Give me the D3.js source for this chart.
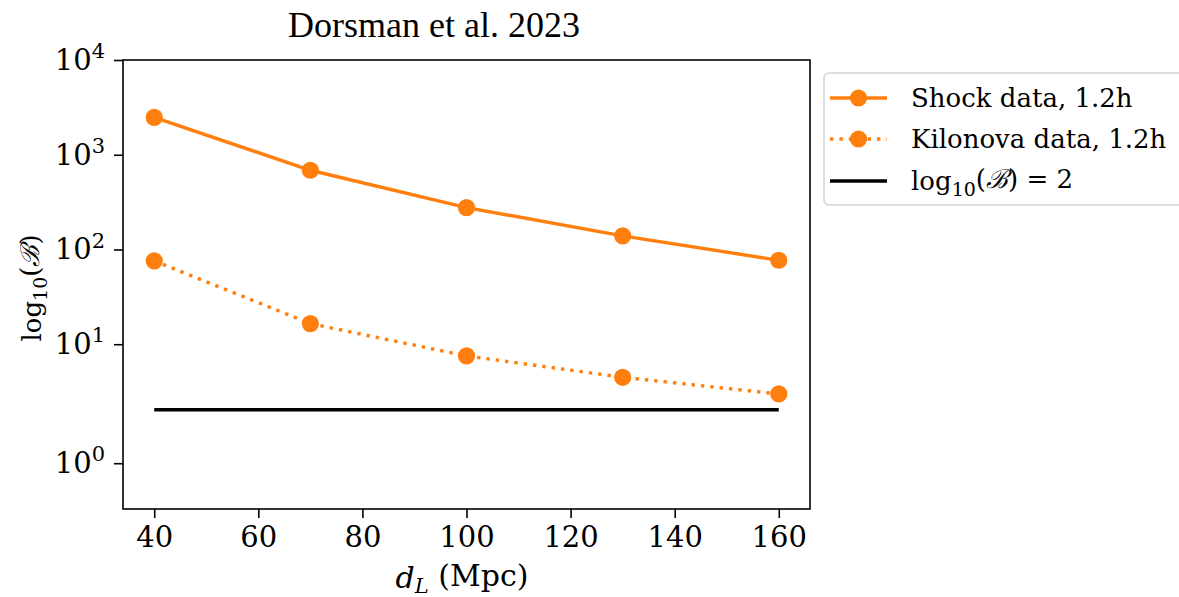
<!DOCTYPE html>
<html>
<head>
<meta charset="utf-8">
<script src="https://cdn.jsdelivr.net/npm/d3@7"></script>
<style>
  html, body { margin: 0; padding: 0; background: #fff; }
  svg { display: block; }
  .serif { font-family: "DejaVu Serif", serif; }
</style>
</head>
<body>
<svg id="chart" width="1179" height="597"></svg>
<script>
// Luminosity distances (Mpc)
const distances = [40, 70, 100, 130, 160];
// Bayes factors for the two data sets
const shockValues = [2480, 686, 277, 139, 77];
const kilonovaValues = [75.8, 16.5, 7.5, 4.44, 2.95];
// Detection threshold
const thresholdValue = 2;
// Axis ticks
const xTicks = [40, 60, 80, 100, 120, 140, 160];
const yTickExponents = [0, 1, 2, 3, 4];
const seriesNames = ["Shock data, 1.2h", "Kilonova data, 1.2h"];

(function () {
const plotLeft = 123, plotRight = 810, plotTop = 60, plotBottom = 509;
const orange = "#ff7f0e";

const svg = d3.select("#chart");

const x = d3.scaleLinear().domain([34, 166]).range([plotLeft, plotRight]);

// Piecewise log scale: the lowest decade of this axis is drawn stretched
const ph = plotBottom - plotTop;
const y = d3.scaleLog()
  .domain([0.55, 1, 2, 10, 10000])
  .range([plotBottom, plotBottom - ph * 0.102, plotBottom - ph * 0.221, plotBottom - ph * 0.367, plotTop]);

// Title
svg.append("text")
  .attr("x", 434).attr("y", 37)
  .attr("text-anchor", "middle")
  .style("font-family", "'Liberation Serif', 'Times New Roman', serif")
  .style("font-size", "36px")
  .text("Dorsman et al. 2023");

// Threshold line
svg.append("line")
  .attr("x1", x(distances[0])).attr("x2", x(distances[distances.length - 1]))
  .attr("y1", y(thresholdValue)).attr("y2", y(thresholdValue))
  .attr("stroke", "#000").attr("stroke-width", 3.4);

const line = d3.line().x((d, i) => x(distances[i])).y(d => y(d));

// Shock curve
svg.append("path")
  .datum(shockValues)
  .attr("d", line)
  .attr("fill", "none").attr("stroke", orange).attr("stroke-width", 3.4);

// Kilonova curve (dotted)
svg.append("path")
  .datum(kilonovaValues)
  .attr("d", line)
  .attr("fill", "none").attr("stroke", orange).attr("stroke-width", 3.4)
  .attr("stroke-dasharray", "3.4,6");

[shockValues, kilonovaValues].forEach(vals => {
  svg.append("g").selectAll("circle")
    .data(vals).join("circle")
    .attr("cx", (d, i) => x(distances[i]))
    .attr("cy", d => y(d))
    .attr("r", 8.6)
    .attr("fill", orange);
});

// Frame
svg.append("rect")
  .attr("x", plotLeft).attr("y", plotTop)
  .attr("width", plotRight - plotLeft).attr("height", plotBottom - plotTop)
  .attr("fill", "none").attr("stroke", "#000").attr("stroke-width", 1.6);

// X axis
const xAxis = svg.append("g")
  .attr("transform", `translate(0,${plotBottom})`)
  .call(d3.axisBottom(x).tickValues(xTicks).tickSize(9).tickPadding(8).tickFormat(d3.format("d")));
xAxis.select(".domain").remove();
xAxis.selectAll(".tick line").attr("stroke", "#000").attr("stroke-width", 1.6);
xAxis.selectAll(".tick text")
  .attr("class", "serif")
  .style("font-size", "29px")
  .attr("fill", "#000");

// Y axis
const yAxis = svg.append("g")
  .attr("transform", `translate(${plotLeft},0)`)
  .call(d3.axisLeft(y).tickValues(yTickExponents.map(e => Math.pow(10, e))).tickSize(9).tickPadding(9).tickFormat(""));
yAxis.select(".domain").remove();
yAxis.selectAll(".tick line").attr("stroke", "#000").attr("stroke-width", 1.6);
yAxis.selectAll(".tick text")
  .data(yTickExponents)
  .attr("class", "serif")
  .attr("fill", "#000")
  .attr("dy", "0.32em")
  .style("font-size", "29px")
  .each(function(e) {
    const t = d3.select(this);
    t.append("tspan").text("10");
    t.append("tspan").attr("dy", "-0.55em").style("font-size", "21px").text(String(e));
  });

// Y label
const yl = svg.append("text")
  .attr("class", "serif")
  .attr("transform", "translate(41,288) rotate(-90)")
  .attr("text-anchor", "middle")
  .style("font-size", "26px");
yl.append("tspan").text("log");
yl.append("tspan").attr("dy", "0.3em").style("font-size", "19px").text("10");
yl.append("tspan").attr("dy", "-0.3em").text("(");
yl.append("tspan").style("font-style", "italic").text("ℬ");
yl.append("tspan").text(")");

// X label
const xl = svg.append("text")
  .attr("class", "serif")
  .attr("x", 462).attr("y", 588)
  .attr("text-anchor", "middle")
  .style("font-size", "30px");
xl.append("tspan").style("font-style", "italic").text("d");
xl.append("tspan").attr("dy", "0.25em").style("font-size", "21px").style("font-style", "italic").text("L");
xl.append("tspan").attr("dy", "-0.25em").text(" (Mpc)");

// Legend
const lg = svg.append("g");
lg.append("rect")
  .attr("x", 824).attr("y", 73).attr("width", 380).attr("height", 132)
  .attr("rx", 5)
  .attr("fill", "#fff").attr("stroke", "#d4d4d4").attr("stroke-width", 1.6);

const rows = [98, 139, 181];
const sx1 = 830, sx2 = 887, tx = 911;

// Shock entry
lg.append("line").attr("x1", sx1).attr("x2", sx2).attr("y1", rows[0]).attr("y2", rows[0])
  .attr("stroke", orange).attr("stroke-width", 3.4);
lg.append("circle").attr("cx", (sx1 + sx2) / 2).attr("cy", rows[0]).attr("r", 8.6).attr("fill", orange);
// Kilonova entry
lg.append("line").attr("x1", sx1).attr("x2", sx2).attr("y1", rows[1]).attr("y2", rows[1])
  .attr("stroke", orange).attr("stroke-width", 3.4).attr("stroke-dasharray", "3.4,6");
lg.append("circle").attr("cx", (sx1 + sx2) / 2).attr("cy", rows[1]).attr("r", 8.6).attr("fill", orange);
// Threshold entry
lg.append("line").attr("x1", sx1).attr("x2", sx2).attr("y1", rows[2]).attr("y2", rows[2])
  .attr("stroke", "#000").attr("stroke-width", 3.4);

seriesNames.forEach((name, i) => {
  lg.append("text").attr("class", "serif")
    .attr("x", tx).attr("y", rows[i]).attr("dy", "0.36em")
    .style("font-size", "26px").text(name);
});
const lt = lg.append("text").attr("class", "serif")
  .attr("x", tx).attr("y", rows[2]).attr("dy", "0.36em")
  .style("font-size", "26px");
lt.append("tspan").text("log");
lt.append("tspan").attr("dy", "0.3em").style("font-size", "19px").text("10");
lt.append("tspan").attr("dy", "-0.3em").text("(");
lt.append("tspan").style("font-style", "italic").text("ℬ");
lt.append("tspan").text(") = " + thresholdValue);
})();
</script>
</body>
</html>
